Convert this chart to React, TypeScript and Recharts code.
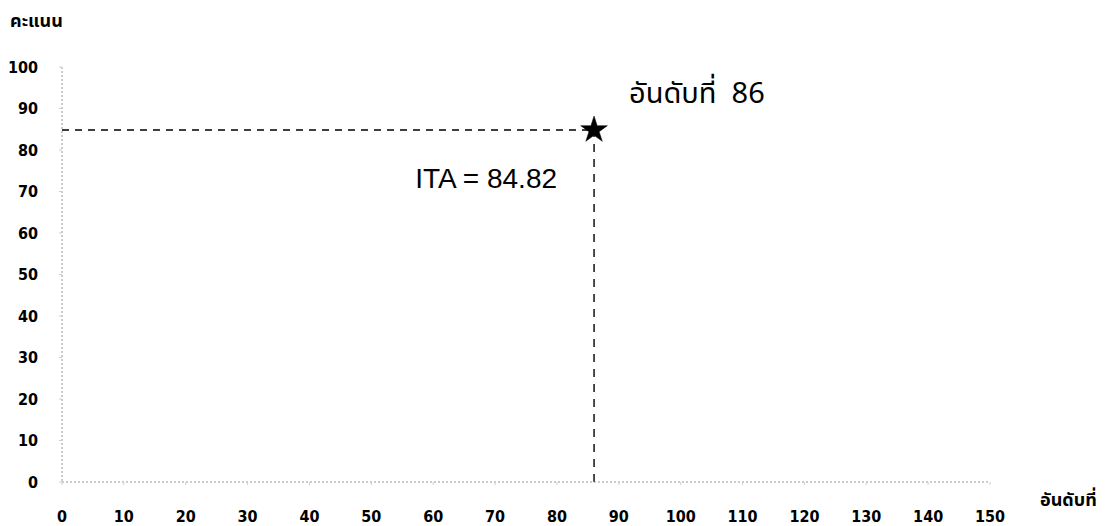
import React from 'react';
import {
  ComposedChart,
  Scatter,
  XAxis,
  YAxis,
  ReferenceLine,
  ReferenceDot,
  Symbols,
} from 'recharts';

const rank = [86];
const score = [84.82];
const xTicks = [0, 10, 20, 30, 40, 50, 60, 70, 80, 90, 100, 110, 120, 130, 140, 150];
const yTicks = [0, 10, 20, 30, 40, 50, 60, 70, 80, 90, 100];
const yAxisTitle = 'คะแนน';
const xAxisTitle = 'อันดับที่';
const rankLabel = `อันดับที่  ${rank[0]}`;
const scoreLabel = `ITA = ${score[0]}`;

const points = rank.map((r, i) => ({ rank: r, score: score[i] }));

const thaiFont = '"Noto Sans Thai", "Noto Sans Thai UI", "Loma", "Garuda", "Noto Sans", Tahoma, sans-serif';
const tickFont = '"DejaVu Sans Condensed", "DejaVu Sans", Tahoma, sans-serif';

const axisStroke = '#9a9a9a';

const StarShape = (props: any) => (
  <Symbols cx={props.cx} cy={props.cy} type="star" size={220} fill="#000" stroke="#000" strokeWidth={0.5} />
);

export default function App() {
  const p = points[0];
  return (
    <div style={{ position: 'absolute', left: 0, top: 0, width: 1111, height: 526, background: '#fff' }}>
      <ComposedChart
        width={1111}
        height={526}
        margin={{ top: 67, right: 121, bottom: 4, left: 12 }}
      >
        <XAxis
          type="number"
          dataKey="rank"
          domain={[0, 150]}
          ticks={xTicks}
          interval={0}
          height={40}
          tickSize={3}
          tickMargin={26}
          axisLine={{ stroke: axisStroke, strokeDasharray: '2 2', strokeWidth: 1 }}
          tickLine={{ stroke: '#d0d0d0' }}
          tick={{ fill: '#000', fontSize: 16, fontWeight: 600, fontFamily: tickFont }}
          allowDataOverflow
        />
        <YAxis
          type="number"
          dataKey="score"
          domain={[0, 100]}
          ticks={yTicks}
          interval={0}
          width={50}
          tickSize={3}
          tickMargin={21}
          axisLine={{ stroke: axisStroke, strokeDasharray: '2 2', strokeWidth: 1 }}
          tickLine={{ stroke: '#d0d0d0' }}
          tick={{ fill: '#000', fontSize: 16, fontWeight: 600, fontFamily: tickFont }}
          allowDataOverflow
        />
        <ReferenceLine
          segment={[{ x: 0, y: p.score }, { x: p.rank, y: p.score }]}
          stroke="#000"
          strokeWidth={1.4}
          strokeDasharray="7 6"
        />
        <ReferenceLine
          segment={[{ x: p.rank, y: 0 }, { x: p.rank, y: p.score }]}
          stroke="#000"
          strokeWidth={1.4}
          strokeDasharray="8 7"
        />
        <Scatter data={points} shape={StarShape} fill="#000" isAnimationActive={false} />
        <ReferenceDot
          x={p.rank}
          y={p.score}
          r={1}
          fill="none"
          stroke="none"
          label={{
            content: (props: any) => {
              const vb = props.viewBox || {};
              const cx = (vb.x ?? 0) + (vb.width ?? 0) / 2;
              const cy = (vb.y ?? 0) + (vb.height ?? 0) / 2;
              return (
                <g>
                  <text
                    x={cx + 35}
                    y={cy - 27}
                    fontSize={29}
                    fontFamily={thaiFont}
                    fill="#000"
                    textAnchor="start"
                    style={{ whiteSpace: 'pre' }}
                  >
                    {rankLabel}
                  </text>
                  <text
                    x={cx - 37}
                    y={cy + 58}
                    fontSize={28}
                    fontFamily='"Liberation Sans", Arial, sans-serif'
                    fill="#000"
                    textAnchor="end"
                  >
                    {scoreLabel}
                  </text>
                </g>
              );
            },
          }}
        />
      </ComposedChart>
      <div
        style={{
          position: 'absolute',
          left: 10,
          top: 10,
          fontFamily: thaiFont,
          fontWeight: 'bold',
          fontSize: 18,
          lineHeight: '24px',
          color: '#000',
        }}
      >
        {yAxisTitle}
      </div>
      <div
        style={{
          position: 'absolute',
          left: 1040,
          top: 489,
          fontFamily: thaiFont,
          fontWeight: 'bold',
          fontSize: 18,
          lineHeight: '24px',
          color: '#000',
        }}
      >
        {xAxisTitle}
      </div>
    </div>
  );
}
